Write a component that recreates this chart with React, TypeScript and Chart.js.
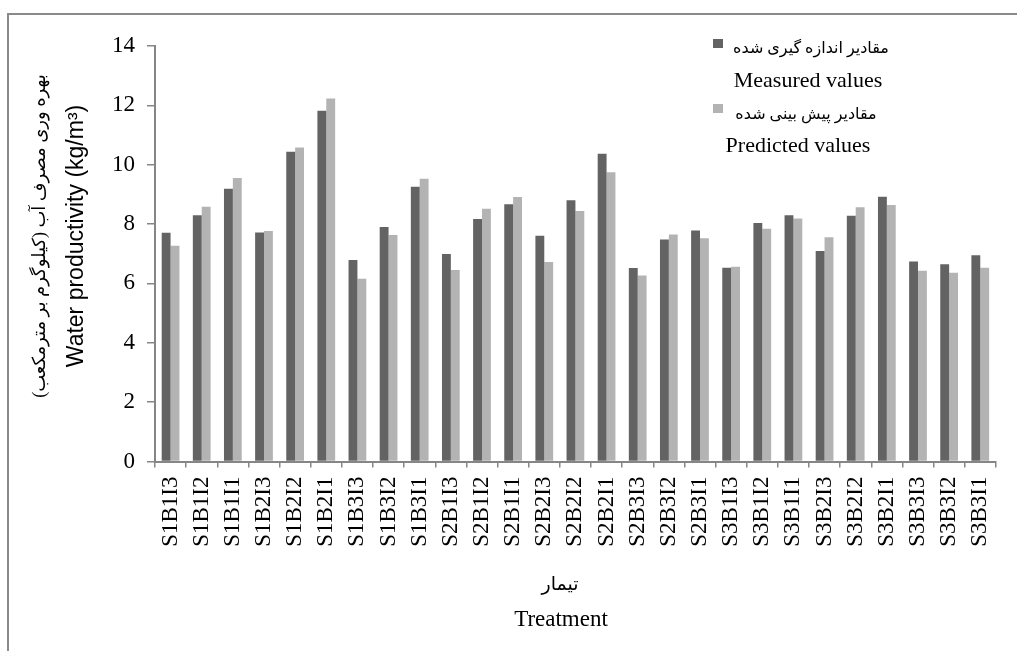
import React, { useEffect, useRef } from "react";
import { Chart, registerables } from "chart.js";

Chart.register(...registerables);

const categories = [
  "S1B1I3", "S1B1I2", "S1B1I1", "S1B2I3", "S1B2I2", "S1B2I1", "S1B3I3", "S1B3I2", "S1B3I1",
  "S2B1I3", "S2B1I2", "S2B1I1", "S2B2I3", "S2B2I2", "S2B2I1", "S2B3I3", "S2B3I2", "S2B3I1",
  "S3B1I3", "S3B1I2", "S3B1I1", "S3B2I3", "S3B2I2", "S3B2I1", "S3B3I3", "S3B3I2", "S3B3I1",
];

const measured = [
  7.71, 8.30, 9.19, 7.72, 10.44, 11.82, 6.79, 7.90, 9.26,
  6.99, 8.17, 8.67, 7.61, 8.80, 10.37, 6.52, 7.48, 7.78,
  6.53, 8.04, 8.30, 7.09, 8.28, 8.92, 6.74, 6.65, 6.95,
];

const predicted = [
  7.27, 8.58, 9.55, 7.77, 10.58, 12.23, 6.16, 7.63, 9.53,
  6.45, 8.52, 8.91, 6.72, 8.44, 9.75, 6.27, 7.65, 7.52,
  6.56, 7.84, 8.19, 7.56, 8.57, 8.64, 6.43, 6.36, 6.53,
];

const measuredLabelFa = "مقادیر اندازه گیری شده";
const measuredLabelEn = "Measured values";
const predictedLabelFa = "مقادیر پیش بینی شده";
const predictedLabelEn = "Predicted values";
const yTitleFa = "بهره وری مصرف آب (کیلوگرم بر مترمکعب)";
const yTitleEn = "Water productivity (kg/m³)";
const xTitleFa = "تیمار";
const xTitleEn = "Treatment";

const yTicksMin = 0;
const yTicksMax = 14;
const yTicksStep = 2;

const DARK = "#636363";
const LIGHT = "#b3b3b3";
const AXIS = "#868686";
const SERIF = "'Liberation Serif', 'Times New Roman', serif";
const FA_FONT = "'Liberation Serif', 'DejaVu Sans', serif";
const SANS = "'Liberation Sans', Arial, sans-serif";

const extrasPlugin = {
  id: "extras",
  afterDraw(chart: any) {
    const ctx = chart.ctx as CanvasRenderingContext2D;
    const ds = chart.data.datasets;
    ctx.save();
    ctx.fillStyle = "#000";

    // Legend
    const items = [
      { color: ds[0].backgroundColor, fa: ds[0].label, en: measuredLabelEn, sq: 39, faY: 49, enY: 81, faX: 811, enX: 808 },
      { color: ds[1].backgroundColor, fa: ds[1].label, en: predictedLabelEn, sq: 104, faY: 115, enY: 146, faX: 806, enX: 798 },
    ];
    for (const it of items) {
      ctx.fillStyle = it.color;
      ctx.fillRect(713, it.sq, 10, 9);
      ctx.fillStyle = "#000";
      ctx.textBaseline = "middle";
      ctx.textAlign = "center";
      ctx.direction = "rtl";
      ctx.font = `16px ${FA_FONT}`;
      ctx.fillText(it.fa, it.faX, it.faY);
      ctx.direction = "ltr";
      ctx.font = `22px ${SERIF}`;
      ctx.fillText(it.en, it.enX, it.enY);
    }

    // Y titles
    ctx.save();
    ctx.translate(40, 236);
    ctx.rotate(-Math.PI / 2);
    ctx.direction = "rtl";
    ctx.textAlign = "center";
    ctx.textBaseline = "middle";
    ctx.font = `18px ${FA_FONT}`;
    ctx.fillText(yTitleFa, 0, 0);
    ctx.restore();

    ctx.save();
    ctx.translate(77, 236);
    ctx.rotate(-Math.PI / 2);
    ctx.direction = "ltr";
    ctx.textAlign = "center";
    ctx.textBaseline = "middle";
    ctx.font = `23px ${SANS}`;
    ctx.fillText(yTitleEn, 0, 0);
    ctx.restore();

    // X titles
    ctx.textAlign = "center";
    ctx.textBaseline = "middle";
    ctx.direction = "rtl";
    ctx.font = `19px ${FA_FONT}`;
    ctx.fillText(xTitleFa, 560, 585);
    ctx.direction = "ltr";
    ctx.font = `23px ${SERIF}`;
    ctx.fillText(xTitleEn, 561, 620);

    ctx.restore();
  },
};

export default function App() {
  const ref = useRef<HTMLCanvasElement>(null);

  useEffect(() => {
    if (!ref.current) return;
    const chart = new Chart(ref.current, {
      type: "bar",
      data: {
        labels: categories,
        datasets: [
          { label: measuredLabelFa, data: measured, backgroundColor: DARK, categoryPercentage: 0.57, barPercentage: 1 },
          { label: predictedLabelFa, data: predicted, backgroundColor: LIGHT, categoryPercentage: 0.57, barPercentage: 1 },
        ],
      },
      options: {
        responsive: false,
        animation: false,
        devicePixelRatio: 1,
        layout: { padding: { top: 46, right: 7, left: 0, bottom: 0 } },
        plugins: {
          legend: { display: false },
          tooltip: { enabled: false },
        },
        scales: {
          x: {
            offset: true,
            grid: {
              display: true,
              offset: true,
              drawOnChartArea: false,
              drawTicks: true,
              tickLength: 6,
              color: AXIS,
              lineWidth: 1.5,
            },
            border: { display: true, color: AXIS, width: 2 },
            ticks: {
              autoSkip: false,
              minRotation: 90,
              maxRotation: 90,
              padding: 9,
              color: "#000",
              font: { family: SERIF, size: 23 },
            },
            afterFit: (scale: any) => {
              scale.height = 189.5;
            },
          },
          y: {
            min: yTicksMin,
            max: yTicksMax,
            ticks: {
              stepSize: yTicksStep,
              padding: 12,
              color: "#000",
              font: { family: SERIF, size: 23 },
            },
            grid: {
              display: true,
              drawOnChartArea: false,
              drawTicks: true,
              tickLength: 8,
              color: AXIS,
              lineWidth: 1.5,
            },
            border: { display: true, color: AXIS, width: 2 },
            afterFit: (scale: any) => {
              scale.width = 155;
            },
          },
        },
      },
      plugins: [extrasPlugin],
    });
    return () => chart.destroy();
  }, []);

  return (
    <div style={{ position: "fixed", left: 0, top: 0, width: 1017, height: 651, overflow: "hidden", background: "#fff" }}>
      <div
        style={{
          position: "absolute",
          left: 7,
          top: 13,
          width: 2000,
          height: 2000,
          borderTop: "2px solid #8a8a8a",
          borderLeft: "2px solid #8a8a8a",
        }}
      />
      <canvas ref={ref} width={1017} height={651} style={{ position: "absolute", left: 0, top: 0, display: "block" }} />
    </div>
  );
}
